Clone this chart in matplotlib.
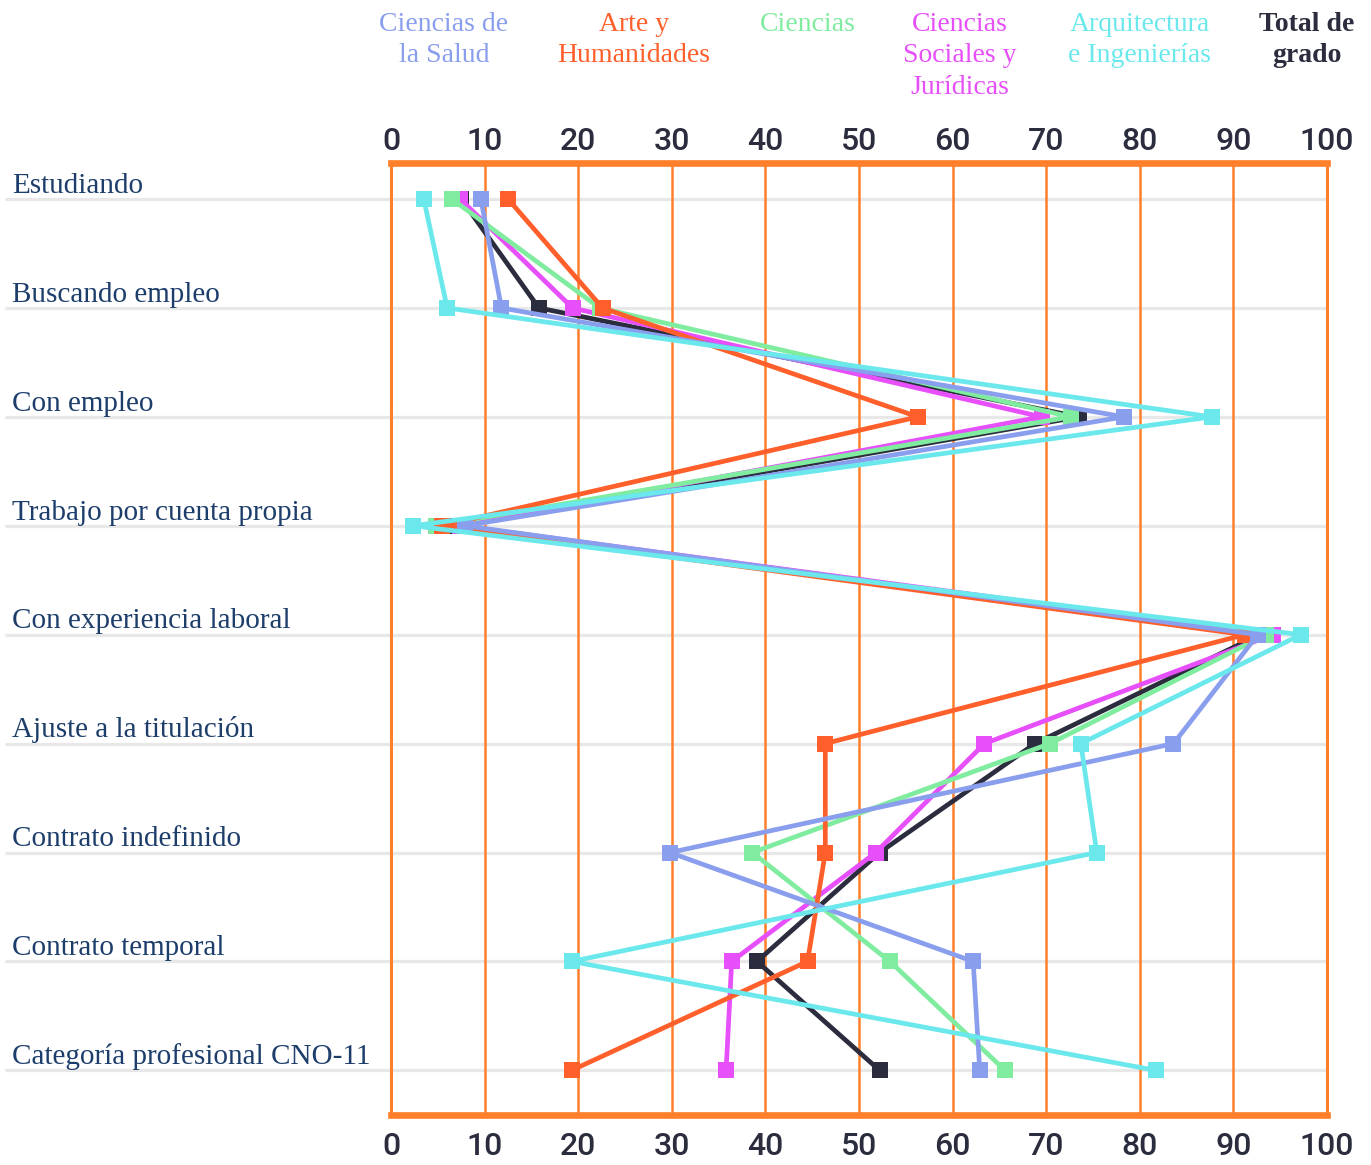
import matplotlib.pyplot as plt

# Categories (top to bottom)
categories = [
    "Estudiando",
    "Buscando empleo",
    "Con empleo",
    "Trabajo por cuenta propia",
    "Con experiencia laboral",
    "Ajuste a la titulación",
    "Contrato indefinido",
    "Contrato temporal",
    "Categoría profesional CNO-11",
]

# Series values (%)
salud = [9.6, 11.8, 78.3, 7.9, 92.6, 83.6, 29.8, 62.2, 62.9]
arte = [12.5, 22.6, 56.3, 5.4, 91.2, 46.4, 46.4, 44.5, 19.3]
ciencias = [6.5, 22.3, 72.6, 4.8, 93.5, 70.4, 38.6, 53.3, 65.6]
sociales = [7.4, 19.4, 69.5, 7.4, 94.2, 63.4, 51.8, 36.4, 35.8]
arquitectura = [3.5, 6.0, 87.7, 2.4, 97.2, 73.7, 75.4, 19.3, 81.7]
total = [7.5, 15.8, 73.5, 6.8, 92.8, 68.8, 52.2, 39.1, 52.2]

series_names = ["Ciencias de\nla Salud", "Arte y\nHumanidades", "Ciencias",
                "Ciencias\nSociales y\nJurídicas", "Arquitectura\ne Ingenierías",
                "Total de\ngrado"]
xticks = [0, 10, 20, 30, 40, 50, 60, 70, 80, 90, 100]

c_blue = "#8a9eee"
c_orange = "#ff5f2a"
c_green = "#80eca0"
c_magenta = "#e64ff9"
c_cyan = "#6ae8ec"
c_black = "#2b2d3e"
c_grid = "#ff7f2a"
c_label = "#1d3e6b"

fig = plt.figure(figsize=(13.71, 11.65), dpi=100)
W, H = 1371, 1165
ax = fig.add_axes([391 / W, 1 - 1115 / H, (1327 - 391) / W, (1115 - 163) / H])

rows = list(range(len(categories)))

# grey row lines extending to the left under the labels
ytrans = ax.get_yaxis_transform()
for i in rows:
    ax.plot([-0.412, 1.0], [i, i], color="#e8e8e8", lw=2.3, transform=ytrans,
            clip_on=False, zorder=0.5, solid_capstyle="butt")
    ax.annotate(categories[i], xy=(-0.405, i), xycoords=ytrans,
                xytext=(0, 4.5), textcoords="offset points", va="baseline",
                ha="left", fontsize=21, family="Liberation Serif", color=c_label)

# orange vertical grid
for v in xticks[1:-1]:
    ax.axvline(v, color=c_grid, lw=1.8, zorder=1)

# data lines (stacking order as in the original)
plot_specs = [
    (total, c_black, 3),
    (sociales, c_magenta, 4),
    (ciencias, c_green, 5),
    (arte, c_orange, 6),
    (salud, c_blue, 7),
    (arquitectura, c_cyan, 8),
]
for vals, col, z in plot_specs:
    ax.plot(vals, rows, color=col, lw=3.4, marker="s", markersize=12,
            markeredgewidth=0, zorder=z, clip_on=False)

ax.set_xlim(0, 100)
ax.set_ylim(8.41, -0.331)
ax.set_yticks([])
ax.set_xticks(xticks)
ax.set_xticklabels([str(t) for t in xticks])

for side in ["left", "right"]:
    ax.spines[side].set_color(c_grid)
    ax.spines[side].set_linewidth(2.2)
for side in ["top", "bottom"]:
    ax.spines[side].set_color(c_grid)
    ax.spines[side].set_linewidth(4.8)

ax.tick_params(axis="x", length=0, labelsize=23, labelcolor=c_black, pad=12)
for lbl in ax.get_xticklabels():
    lbl.set_family("Roboto")
    lbl.set_fontweight("medium")

# top axis labels
top = ax.secondary_xaxis("top")
top.set_xticks(xticks)
top.set_xticklabels([str(t) for t in xticks])
top.spines["top"].set_visible(False)
top.tick_params(axis="x", length=0, labelsize=23, labelcolor=c_black, pad=5)
for lbl in top.get_xticklabels():
    lbl.set_family("Roboto")
    lbl.set_fontweight("medium")

# series headers on top
header_x = [444, 634, 808, 960, 1140, 1307]
header_colors = [c_blue, c_orange, c_green, c_magenta, c_cyan, c_black]
for name, hx, col in zip(series_names, header_x, header_colors):
    fig.text(hx / W, 1 - 12 / H, name, ha="center", va="top", color=col,
             fontsize=20, family="Liberation Serif", linespacing=1.34,
             fontweight="bold" if col == c_black else "normal", multialignment="center")

plt.savefig("out.png", dpi=100)
